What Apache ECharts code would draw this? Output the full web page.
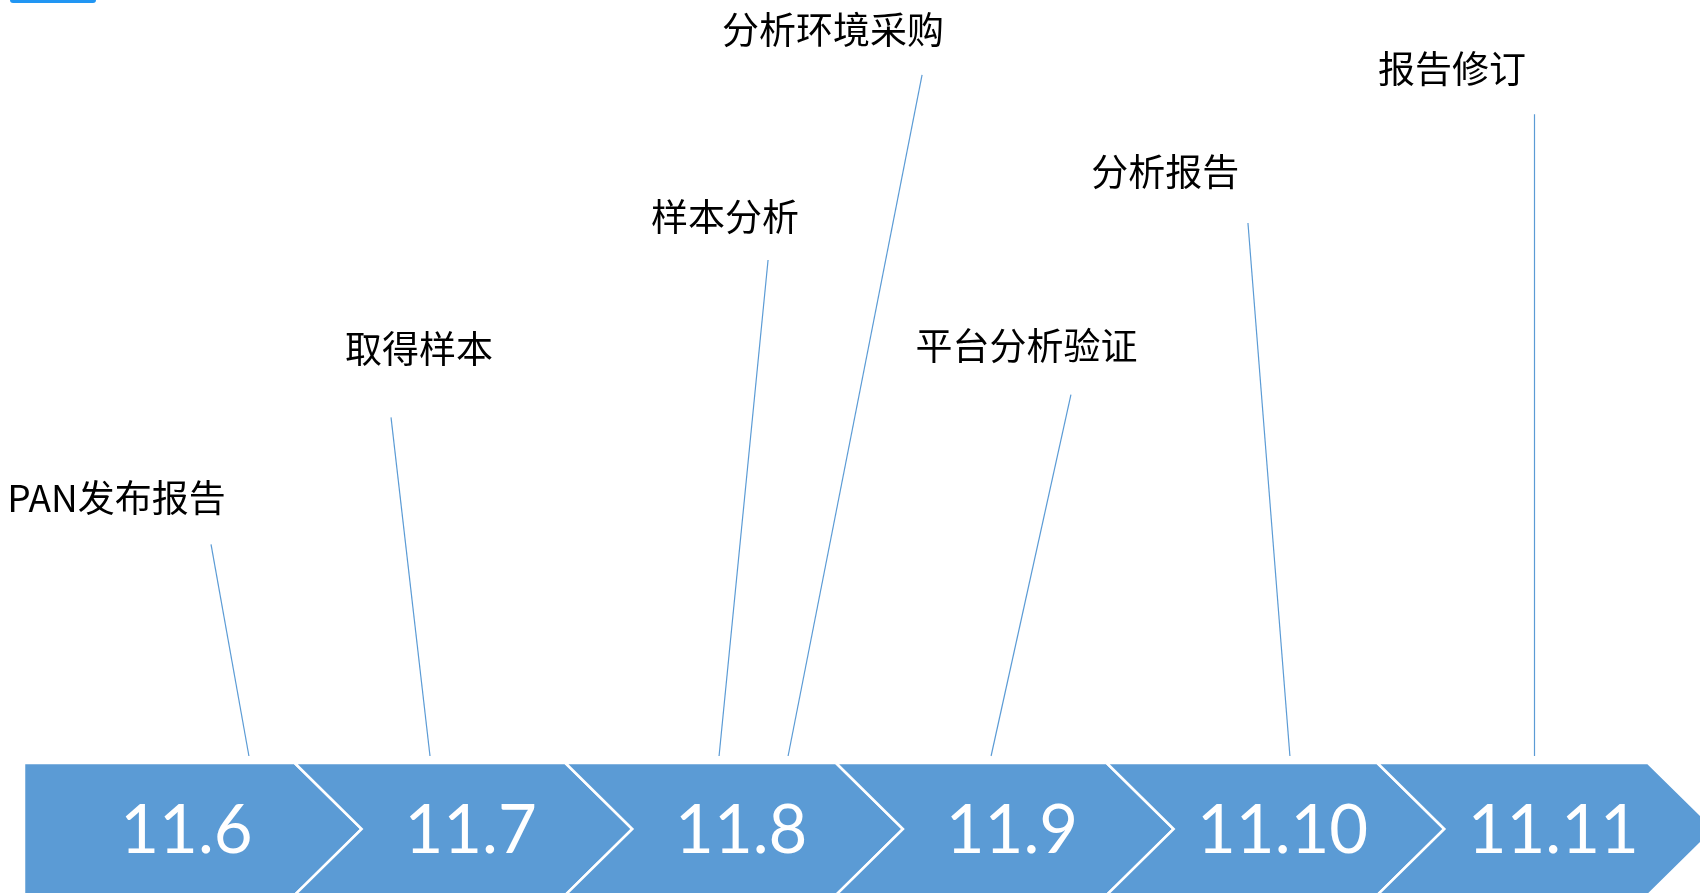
<!DOCTYPE html>
<html>
<head>
<meta charset="utf-8">
<title>项目进度时间线</title>
<script src="https://cdn.jsdelivr.net/npm/echarts@6/dist/echarts.min.js"></script>
<style>
  html, body { margin: 0; padding: 0; background: #ffffff; }
  #chart { width: 1700px; height: 893px; }
</style>
</head>
<body>
<div id="chart"></div>
<script>
// Days shown on the arrow strip (one chevron per day)
const dates = ['11.6', '11.7', '11.8', '11.9', '11.10', '11.11'];

// Milestones: name, where the leader meets the strip (in days from 11.6),
// where the leader ends (day, height) and where its caption sits (day, height)
const events = ['PAN发布报告', '取得样本', '样本分析', '分析环境采购', '平台分析验证', '分析报告', '报告修订'];
const eventFoot = [0.831, 1.500, 2.568, 2.823, 3.573, 4.677, 5.579];
const leaderTopX = [0.691, 1.356, 2.749, 3.318, 3.868, 4.522, 5.579];
const leaderTopY = [28.0, 44.8, 65.6, 90.1, 47.8, 70.5, 84.9];
const captionX = [0.342, 1.459, 2.590, 2.989, 3.704, 4.216, 5.276];
const captionY = [34.3, 54.0, 71.4, 96.2, 54.4, 77.4, 91.0];

const BLUE = '#5B9BD5';

const chart = echarts.init(document.getElementById('chart'), null, { renderer: 'canvas' });

const chevronData = dates.map((d, i) => [i, i + 1]);
const leaderData = events.map((e, i) => ({
  name: e,
  coords: [[eventFoot[i], 0], [leaderTopX[i], leaderTopY[i]]]
}));
const captionData = events.map((e, i) => [captionX[i], captionY[i]]);

const option = {
  backgroundColor: '#ffffff',
  animation: false,
  grid: { left: 24, right: 52, top: 0, bottom: 137 },
  xAxis: { type: 'value', min: 0, max: 6, show: false },
  yAxis: { type: 'value', min: 0, max: 100, show: false },
  graphic: [{
    type: 'rect',
    shape: { x: 10, y: -4, width: 86, height: 7, r: 3 },
    style: { fill: '#2196F3' }
  }],
  series: [
    {
      // chevron strip with the day labels
      type: 'custom',
      coordinateSystem: 'cartesian2d',
      data: chevronData,
      encode: { x: [0, 1] },
      silent: true,
      renderItem: function (params, api) {
        const i = params.dataIndex;
        const p0 = api.coord([api.value(0), 0]);
        const p1 = api.coord([api.value(1), 0]);
        const L = p0[0], R = p1[0];
        const top = p0[1] + 7;
        const half = 66;
        const depth = 67;
        const mid = top + half, bot = top + 2 * half;
        const pts = [[L, top], [R, top], [R + depth, mid], [R, bot], [L, bot]];
        if (i > 0) pts.push([L + depth, mid]);
        const w = R - L;
        const tx = i === 0 ? L + 0.60 * w : L + 0.65 * w;
        return {
          type: 'group',
          children: [
            {
              type: 'polygon',
              shape: { points: pts },
              style: { fill: BLUE, stroke: '#ffffff', lineWidth: 2.5 }
            },
            {
              type: 'text',
              x: tx,
              y: mid + 2,
              style: {
                text: dates[i],
                fill: '#ffffff',
                font: 'normal 67px Lato, "Noto Sans", sans-serif',
                align: 'center',
                verticalAlign: 'middle'
              }
            }
          ]
        };
      },
      z: 2
    },
    {
      // leader lines from the strip up to each milestone
      type: 'lines',
      coordinateSystem: 'cartesian2d',
      data: leaderData,
      silent: true,
      lineStyle: { color: BLUE, width: 1.2, opacity: 1, curveness: 0 },
      z: 3
    },
    {
      // milestone captions
      type: 'custom',
      coordinateSystem: 'cartesian2d',
      data: captionData,
      encode: { x: 0, y: 1 },
      silent: true,
      renderItem: function (params, api) {
        const p = api.coord([api.value(0), api.value(1)]);
        return {
          type: 'text',
          x: p[0],
          y: p[1] + 1,
          style: {
            text: events[params.dataIndex],
            fill: '#000000',
            font: 'normal 37px "Noto Sans CJK SC", sans-serif',
            align: 'center',
            verticalAlign: 'middle'
          }
        };
      },
      z: 4
    }
  ]
};

chart.setOption(option);
</script>
</body>
</html>
